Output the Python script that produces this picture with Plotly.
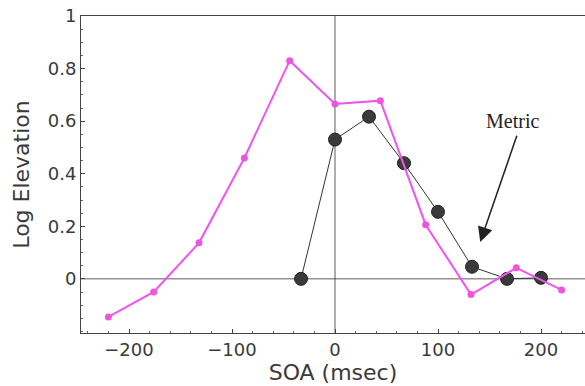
import plotly.graph_objects as go

soa_pink = [-220, -176, -132, -88, -44, 0, 44, 88, 132, 176, 220]
elev_pink = [-0.145, -0.05, 0.137, 0.46, 0.83, 0.665, 0.678, 0.206, -0.06, 0.042, -0.042]

soa_metric = [-33, 0, 33, 67, 100, 133, 167, 200]
elev_metric = [0.0, 0.53, 0.617, 0.44, 0.255, 0.046, 0.0, 0.004]

x_ticks = [-200, -100, 0, 100, 200]
y_ticks = [0, 0.2, 0.4, 0.6, 0.8, 1]
y_tick_labels = ["0", "0.2", "0.4", "0.6", "0.8", "1"]

fig = go.Figure()
# zero lines
fig.add_shape(type="line", xref="x", yref="paper", x0=0, x1=0, y0=0, y1=1,
              line=dict(color="#333333", width=0.8), layer="below")
fig.add_shape(type="line", xref="paper", yref="y", x0=0, x1=1, y0=0, y1=0,
              line=dict(color="#333333", width=0.8), layer="below")

fig.add_trace(go.Scatter(x=soa_metric, y=elev_metric, mode="lines+markers",
                         line=dict(color="#333333", width=1),
                         marker=dict(size=13, color="#3a3a3a",
                                     line=dict(color="#222222", width=1)),
                         showlegend=False))
fig.add_trace(go.Scatter(x=soa_pink, y=elev_pink, mode="lines+markers",
                         line=dict(color="#ee55ee", width=2),
                         marker=dict(size=7, color="#ee55dd"),
                         showlegend=False))

fig.add_annotation(x=141, y=0.14, ax=177, ay=0.55, xref="x", yref="y",
                   axref="x", ayref="y", text="", showarrow=True,
                   arrowhead=2, arrowsize=2, arrowwidth=1.5, arrowcolor="#222222")
fig.add_annotation(x=172, y=0.6, xref="x", yref="y", text="Metric",
                   showarrow=False, font=dict(family="Liberation Serif", size=20, color="#222222"))

fig.update_layout(
    width=585, height=386,
    margin=dict(l=81, r=0, t=16, b=53),
    paper_bgcolor="white", plot_bgcolor="white",
    font=dict(family="DejaVu Sans", size=18, color="#3a3a3a"),
    xaxis=dict(range=[-246.6, 242.7], tickvals=x_ticks, showgrid=False, zeroline=False,
               automargin=False,
               showline=True, linecolor="#444444", linewidth=1, mirror=True,
               ticks="inside", ticklen=4, tickcolor="#444444",
               minor=dict(dtick=20, ticks="inside", ticklen=2, tickcolor="#666666"),
               title=dict(text="SOA (msec)", standoff=2),
               tickfont=dict(size=18)),
    yaxis=dict(range=[-0.206, 1.0], tickvals=y_ticks, ticktext=y_tick_labels,
               automargin=False, ticklabeloverflow="allow",
               showgrid=False, zeroline=False, showline=True, linecolor="#444444",
               linewidth=1, ticks="inside", ticklen=4, tickcolor="#444444",
               minor=dict(dtick=0.05, ticks="inside", ticklen=2, tickcolor="#666666"),
               title=dict(text="Log Elevation", standoff=12),
               tickfont=dict(size=18)),
)

fig.write_html("out.html", config={"displayModeBar": False},
               post_script="document.body.style.margin='0px';")
